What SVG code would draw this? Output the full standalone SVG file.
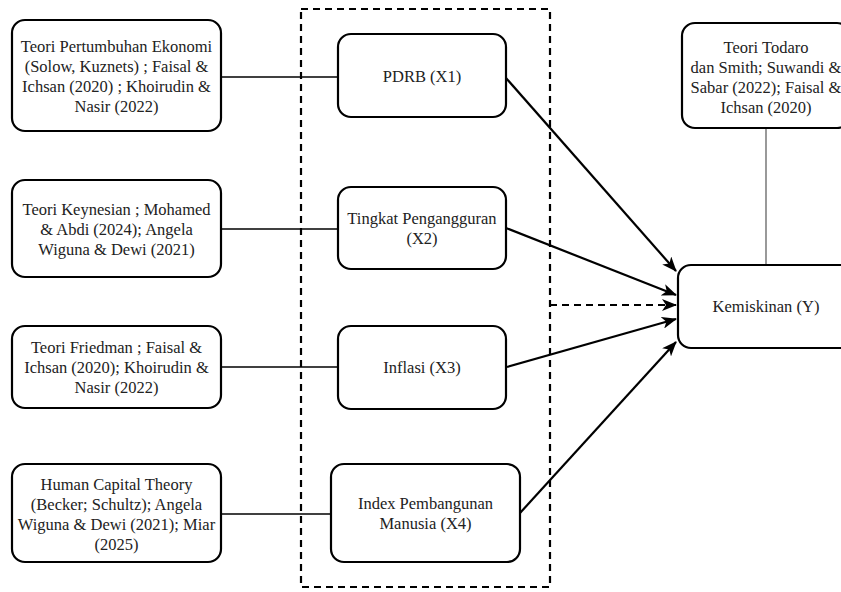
<svg xmlns="http://www.w3.org/2000/svg" width="841" height="592" viewBox="0 0 841 592">
<style>
.box{fill:#fff;stroke:#000;stroke-width:2.2}
.t{font-family:"Liberation Serif","Times New Roman",serif;font-size:16.5px;fill:#222;text-anchor:middle}
.ln{stroke:#000;stroke-width:1.4;fill:none}
.ar{stroke:#000;stroke-width:2.2;fill:none;marker-end:url(#ah)}
.dash{stroke:#000;stroke-width:2.2;fill:none;stroke-dasharray:7 5}
</style>
<defs>
<marker id="ah" markerUnits="userSpaceOnUse" markerWidth="16" markerHeight="12" refX="14" refY="6" orient="auto">
<path d="M0,0 L15,6 L0,12 L4,6 z" fill="#000"/>
</marker>
</defs>
<rect width="841" height="592" fill="#fff"/>
<g id="group-frame">
<rect x="301" y="9" width="249" height="578" class="dash"/>
</g>
<g id="connectors">
<line x1="221" y1="77" x2="338" y2="77" class="ln"/>
<line x1="221" y1="229" x2="338" y2="229" class="ln"/>
<line x1="221" y1="367" x2="338" y2="367" class="ln"/>
<line x1="221" y1="514" x2="331" y2="514" class="ln"/>
<line x1="766" y1="128" x2="766" y2="265" stroke="#808080" stroke-width="1.6"/>
<line x1="506" y1="78" x2="676" y2="271" class="ar"/>
<line x1="506" y1="228" x2="676" y2="295" class="ar"/>
<line x1="550" y1="305" x2="676" y2="305" class="dash" marker-end="url(#ah)"/>
<line x1="507" y1="367" x2="676" y2="319" class="ar"/>
<line x1="520" y1="513" x2="676" y2="342" class="ar"/>
</g>
<g id="teori-pertumbuhan">
<rect x="12" y="20" width="209" height="111" rx="13" class="box"/>
<text class="t"><tspan x="116.5" y="52">Teori Pertumbuhan Ekonomi</tspan><tspan x="116.5" y="72">(Solow, Kuznets) ; Faisal &amp;</tspan><tspan x="116.5" y="92">Ichsan (2020) ; Khoirudin &amp;</tspan><tspan x="116.5" y="112">Nasir (2022)</tspan></text>
</g>
<g id="teori-keynesian">
<rect x="12" y="180" width="209" height="97" rx="13" class="box"/>
<text class="t"><tspan x="116.5" y="215">Teori Keynesian ; Mohamed</tspan><tspan x="116.5" y="235">&amp; Abdi (2024); Angela</tspan><tspan x="116.5" y="255">Wiguna &amp; Dewi (2021)</tspan></text>
</g>
<g id="teori-friedman">
<rect x="12" y="326" width="209" height="82" rx="13" class="box"/>
<text class="t"><tspan x="116.5" y="353">Teori Friedman ; Faisal &amp;</tspan><tspan x="116.5" y="373">Ichsan (2020); Khoirudin &amp;</tspan><tspan x="116.5" y="393">Nasir (2022)</tspan></text>
</g>
<g id="human-capital">
<rect x="12" y="464" width="209" height="98" rx="13" class="box"/>
<text class="t"><tspan x="116.5" y="490">Human Capital Theory</tspan><tspan x="116.5" y="510">(Becker; Schultz); Angela</tspan><tspan x="116.5" y="530">Wiguna &amp; Dewi (2021); Miar</tspan><tspan x="116.5" y="550">(2025)</tspan></text>
</g>
<g id="pdrb">
<rect x="338" y="34" width="168" height="83" rx="13" class="box"/>
<text class="t" x="422" y="81.5">PDRB (X1)</text>
</g>
<g id="pengangguran">
<rect x="338" y="187" width="168" height="82" rx="13" class="box"/>
<text class="t"><tspan x="422" y="224">Tingkat Pengangguran</tspan><tspan x="422" y="244">(X2)</tspan></text>
</g>
<g id="inflasi">
<rect x="338" y="326" width="168" height="83" rx="13" class="box"/>
<text class="t" x="422" y="373">Inflasi (X3)</text>
</g>
<g id="ipm">
<rect x="331" y="464" width="189" height="98" rx="13" class="box"/>
<text class="t"><tspan x="425.5" y="509">Index Pembangunan</tspan><tspan x="425.5" y="529">Manusia (X4)</tspan></text>
</g>
<g id="teori-todaro">
<rect x="682" y="23" width="168" height="105" rx="13" class="box"/>
<text class="t"><tspan x="766" y="53">Teori Todaro</tspan><tspan x="766" y="73">dan Smith; Suwandi &amp;</tspan><tspan x="766" y="93">Sabar (2022); Faisal &amp;</tspan><tspan x="766" y="113">Ichsan (2020)</tspan></text>
</g>
<g id="kemiskinan">
<rect x="678" y="265" width="176" height="83" rx="13" class="box"/>
<text class="t" x="766" y="312">Kemiskinan (Y)</text>
</g>
</svg>
